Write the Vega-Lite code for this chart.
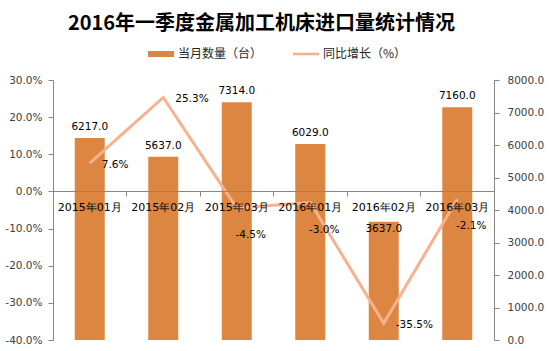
{
  "$schema": "https://vega.github.io/schema/vega-lite/v6.json",
  "width": 441,
  "height": 260,
  "autosize": "none",
  "padding": {"left": 53, "top": 80, "right": 57, "bottom": 11},
  "background": "white",
  "config": {
    "view": {"stroke": null},
    "font": "DejaVu Sans",
    "locale": {"number": {"decimal": ".", "thousands": ",", "grouping": [3], "currency": ["", ""], "minus": "-"}}
  },
  "title": {
    "text": "2016年一季度金属加工机床进口量统计情况",
    "font": "Noto Sans CJK SC",
    "fontSize": 20,
    "fontWeight": "bold",
    "color": "#000000",
    "anchor": "middle",
    "dx": -12,
    "offset": 7
  },
  "data": {
    "values": [
      {"month": "2015年01月", "qty": 6217, "pct": 7.6},
      {"month": "2015年02月", "qty": 5637, "pct": 25.3},
      {"month": "2015年03月", "qty": 7314, "pct": -4.5},
      {"month": "2016年01月", "qty": 6029, "pct": -3.0},
      {"month": "2016年02月", "qty": 3637, "pct": -35.5},
      {"month": "2016年03月", "qty": 7160, "pct": -2.1}
    ]
  },
  "encoding": {
    "x": {
      "field": "month",
      "type": "nominal",
      "sort": null,
      "scale": {"paddingInner": 0, "paddingOuter": 0},
      "axis": {
        "orient": "bottom",
        "offset": -149,
        "zindex": 1,
        "title": null,
        "labelAngle": 0,
        "labelFont": "DejaVu Sans",
        "labelFontSize": 11,
        "labelColor": "#000000",
        "labelPadding": 5,
        "labelOverlap": false,
        "tickSize": 5,
        "bandPosition": 0,
        "domainColor": "#868686",
        "tickColor": "#868686",
        "grid": false
      }
    }
  },
  "layer": [
    {
      "encoding": {
        "y": {
          "field": "qty",
          "type": "quantitative",
          "scale": {"domain": [0, 8000], "nice": false},
          "axis": {
            "orient": "right",
            "title": null,
            "values": [0, 1000, 2000, 3000, 4000, 5000, 6000, 7000, 8000],
            "format": ".1f",
            "labelOverlap": false,
            "labelFontSize": 10.5,
            "labelColor": "#404040",
            "labelPadding": 8,
            "tickSize": 5,
            "domainColor": "#868686",
            "tickColor": "#868686",
            "grid": false
          }
        }
      },
      "layer": [
        {
          "mark": {"type": "bar", "size": 30},
          "encoding": {
            "color": {
              "datum": "当月数量（台）",
              "scale": {"domain": ["当月数量（台）", "同比增长（%）"], "range": ["#DD8642", "#F6B28E"]},
              "legend": {
                "title": null,
                "orient": "none",
                "direction": "horizontal",
                "legendX": 95,
                "legendY": -39,
                "labelFont": "Noto Sans CJK SC",
                "labelFontSize": 12,
                "labelColor": "#262626",
                "symbolSize": 676,
                "columnPadding": 30,
                "labelOffset": 4,
                "encode": {
                  "symbols": {
                    "update": {
                      "shape": {"signal": "datum.value === '当月数量（台）' ? 'M-1,-0.23H1V0.23H-1Z' : 'M-1,-0.1H1V0.1H-1Z'"},
                      "fill": {"signal": "datum.value === '当月数量（台）' ? '#DD8642' : '#F6B28E'"},
                      "stroke": {"value": "transparent"},
                      "strokeWidth": {"value": 0},
                      "opacity": {"value": 1}
                    }
                  }
                }
              }
            }
          }
        },
        {
          "transform": [{"filter": "datum.qty >= 4000"}],
          "mark": {"type": "text", "dy": -6, "baseline": "bottom", "fontSize": 10.5, "color": "#000000"},
          "encoding": {
            "text": {"field": "qty", "type": "quantitative", "format": ".1f"}
          }
        },
        {
          "transform": [{"filter": "datum.qty < 4000"}],
          "mark": {"type": "text", "dy": 2, "baseline": "top", "fontSize": 10.5, "color": "#000000"},
          "encoding": {
            "text": {"field": "qty", "type": "quantitative", "format": ".1f"}
          }
        }
      ]
    },
    {
      "transform": [{"calculate": "format(datum.pct, '.1f') + '%'", "as": "lbl"}],
      "encoding": {
        "y": {
          "field": "pct",
          "type": "quantitative",
          "scale": {"domain": [-40, 30], "nice": false},
          "axis": {
            "orient": "left",
            "title": null,
            "values": [-40, -30, -20, -10, 0, 10, 20, 30],
            "labelExpr": "format(datum.value, '.1f') + '%'",
            "labelOverlap": false,
            "labelFontSize": 10.5,
            "labelColor": "#404040",
            "labelPadding": 6,
            "tickSize": 5,
            "domainColor": "#868686",
            "tickColor": "#868686",
            "grid": false
          }
        }
      },
      "layer": [
        {
          "mark": {"type": "line", "strokeWidth": 3},
          "encoding": {
            "color": {"datum": "同比增长（%）"}
          }
        },
        {
          "transform": [{"filter": "datum.pct > 0 || datum.pct < -30"}],
          "mark": {"type": "text", "align": "left", "dx": 12, "dy": 2, "baseline": "middle", "fontSize": 10.5, "color": "#000000"},
          "encoding": {
            "text": {"field": "lbl"}
          }
        },
        {
          "transform": [{"filter": "datum.pct <= 0 && datum.pct >= -30"}],
          "mark": {"type": "text", "align": "center", "dx": 14, "dy": 27, "baseline": "middle", "fontSize": 10.5, "color": "#000000"},
          "encoding": {
            "text": {"field": "lbl"}
          }
        },
        {
          "data": {"values": [{"t": "中商产业研究院"}]},
          "mark": {"type": "text", "align": "center", "baseline": "middle", "font": "Noto Sans CJK SC", "fontSize": 20, "color": "#3A8CC4", "opacity": 0.85},
          "encoding": {
            "x": {"datum": "2016年01月", "bandPosition": 0.2},
            "y": {"datum": 5, "type": "quantitative"},
            "text": {"field": "t"}
          }
        }
      ]
    }
  ],
  "resolve": {"scale": {"y": "independent"}}
}
